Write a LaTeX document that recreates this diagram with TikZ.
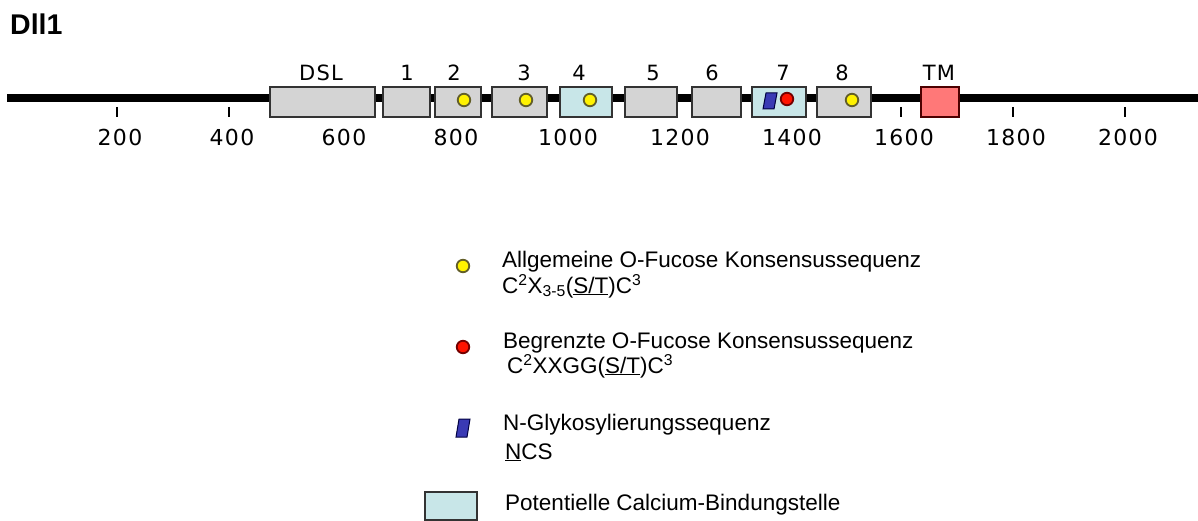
\documentclass[tikz,border=0pt]{standalone}
\usepackage{fontspec}
\setmainfont{Liberation Sans}
\newfontfamily\axisfont[LetterSpace=6]{DejaVu Sans}

\definecolor{domgray}{HTML}{D4D4D4}
\definecolor{cablue}{HTML}{C8E6E8}
\definecolor{tmred}{HTML}{FF7878}
\definecolor{glycoblue}{HTML}{3A3AB4}

\begin{document}
\begin{tikzpicture}[x=1pt, y=-1pt,
  dombox/.style={draw=black!80, line width=1.2pt, minimum height=30pt, inner sep=0pt},
  ofuc/.style={circle, draw=olive!60!black, fill=yellow, line width=1.8pt, minimum size=12.5pt, inner sep=0pt},
  ofucred/.style={ofuc, draw=red!45!black, fill=red!85!orange},
  glyco/.style={draw=blue!25!black, fill=glycoblue, line width=1pt},
  domlabel/.style={font=\axisfont\fontsize{21}{24}\selectfont, inner sep=0pt},
  ticklabel/.style={font=\axisfont\fontsize{22}{26}\selectfont, inner sep=0pt},
  legtext/.style={font=\fontsize{22.5}{26}\selectfont, anchor=base west, inner sep=0pt}]

\useasboundingbox (0,0) rectangle (1198,521);

\node[anchor=base west, inner sep=0pt, font=\bfseries\fontsize{28.5}{32}\selectfont] (title) at (10,35) {Dll1};

% protein backbone and scale
\draw[line width=8pt] (7,98) -- (1198,98);
\foreach \v in {200,400,...,2000} {
  \draw[line width=1.2pt] ({5+0.56*\v},107) -- ({5+0.56*\v},117);
  \node[ticklabel] (t\v) at ({8+0.56*\v},137) {\v};
}

% domains
\foreach \a/\b/\n/\t/\l/\f in {270/375/dsl/DSL/321/domgray, 383/430/e1/1/407/domgray,
    435/481/e2/2/454/domgray, 492/547/e3/3/524/domgray, 560/612/e4/4/579/cablue,
    625/677/e5/5/653/domgray, 692/741/e6/6/712/domgray, 752/806/e7/7/783/cablue,
    817/871/e8/8/842/domgray} {
  \node[dombox, fill=\f, minimum width={\b-\a}] (\n) at ({(\a+\b)/2},102) {};
  \node[domlabel] (\n-lab) at (\l,73) {\t};
}
\node[dombox, fill=tmred, draw=red!30!black, minimum width=38pt] (tm) at (940,102) {};
\node[domlabel] (tm-lab) at (939,73) {TM};

% sites
\foreach \x/\n in {464/e2, 526/e3, 590/e4, 852/e8}
  \node[ofuc] (\n-fuc) at (\x,100) {};
\node[ofucred] (e7-fuc) at (787,99) {};
\draw[glyco] (763,109) -- ++(3,-16) -- ++(11,0) -- ++(-3,16) -- cycle;

% -------- legend -----------
\node[ofuc] (leg-ofuc) at (463,266) {};
\node[legtext] (leg-ofuc-a) at (502,267) {Allgemeine O-Fucose Konsensussequenz};
\node[legtext] (leg-ofuc-b) at (502,293) {C\textsuperscript{2}X\textsubscript{3-5}(\underline{S/T})C\textsuperscript{3}};
\node[ofucred] (leg-red) at (463,347) {};
\node[legtext] (leg-red-a) at (503,348) {Begrenzte O-Fucose Konsensussequenz};
\node[legtext] (leg-red-b) at (507,373) {C\textsuperscript{2}XXGG(\underline{S/T})C\textsuperscript{3}};
\draw[glyco] (456,437) -- ++(3,-18) -- ++(11,0) -- ++(-3,18) -- cycle;
\node[legtext] (leg-glyco-a) at (503,430) {N-Glykosylierungssequenz};
\node[legtext] (leg-glyco-b) at (505,459) {\underline{N}CS};
\node[dombox, fill=cablue, minimum width=52pt, minimum height=28pt] (leg-ca) at (451,506) {};
\node[legtext] (leg-ca-a) at (505,510) {Potentielle Calcium-Bindungstelle};
\end{tikzpicture}
\end{document}
